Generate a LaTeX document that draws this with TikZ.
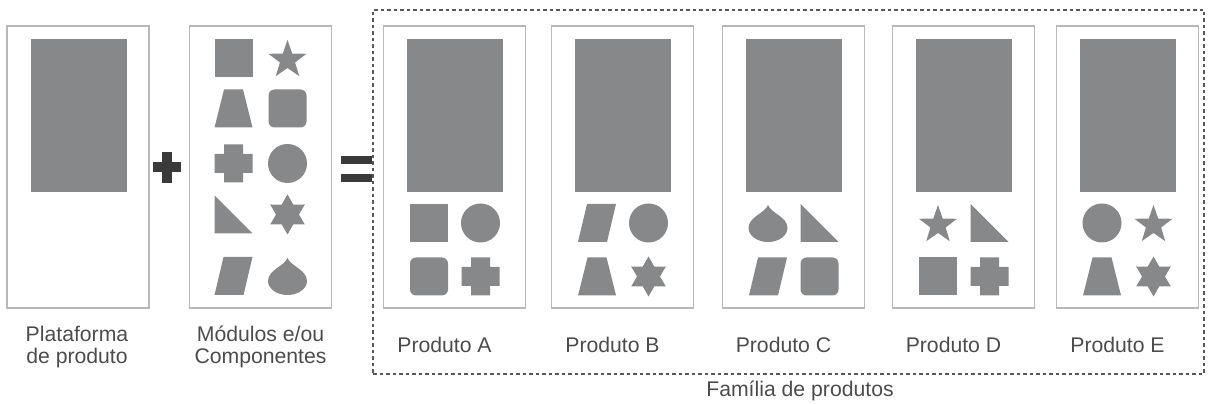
\documentclass[tikz,border=0pt]{standalone}
\usepackage{fontspec}
\setmainfont{Liberation Sans}
\usepackage{tikz}
\usepackage{xcolor}
\definecolor{shapegray}{HTML}{87888A}
\definecolor{boxgray}{HTML}{B8B8B8}
\definecolor{signgray}{HTML}{3A3A3A}
\definecolor{textgray}{HTML}{4C4C4C}
\tikzset{
    outer-box/.style = {draw=boxgray, line width=1.3pt, fill=white, rectangle, minimum width=142pt, minimum height=282pt, inner sep=0pt},
    base-block/.style = {fill=shapegray, rectangle, minimum width=96pt, minimum height=153pt, inner sep=0pt},
    part/.style = {fill=shapegray},
    caption-text/.style = {text=textgray, font=\fontsize{21.2}{22}\selectfont, align=center, inner sep=0pt},
    family-box/.style = {draw=signgray!85, line width=2pt, dash pattern=on 3.5pt off 3pt, rectangle, inner sep=0pt},
    pics/p-square/.style = {code={\fill[part] (-19,-19) rectangle (19,19);}},
    pics/p-rsquare/.style = {code={\fill[part, rounded corners=6pt] (-19,-19) rectangle (19,19);}},
    pics/p-circle/.style = {code={\fill[part] (0,0) circle (19.5);}},
    pics/p-cross/.style = {code={\fill[part] (-9.5,-19) -- (9.5,-19) -- (9.5,-9.5) -- (19,-9.5) -- (19,9.5) -- (9.5,9.5) -- (9.5,19) -- (-9.5,19) -- (-9.5,9.5) -- (-19,9.5) -- (-19,-9.5) -- (-9.5,-9.5) -- cycle;}},
    pics/p-trap/.style = {code={\fill[part] (-19,-19) -- (19,-19) -- (9.5,19) -- (-9.5,19) -- cycle;}},
    pics/p-para/.style = {code={\fill[part] (-19,-19) -- (10,-19) -- (19,19) -- (-10,19) -- cycle;}},
    pics/p-tri/.style = {code={\fill[part] (-19,19) -- (-19,-19) -- (19,-19) -- cycle;}},
    pics/p-star5/.style = {code={\fill[part, shift={(0,-2)}] (90:20) \foreach \k in {1,...,4}{ -- ({54+72*\k}:8) -- ({90+72*\k}:20)} -- (54:8) -- cycle;}},
    pics/p-star6/.style = {code={\fill[part] (90:20) \foreach \k in {1,...,5}{ -- ({60+60*\k}:11.5) -- ({90+60*\k}:20)} -- (60:11.5) -- cycle;}},
    pics/p-drop/.style = {code={\fill[part] (0,18) .. controls (-3,10) and (-19.5,6) .. (-19.5,-5) arc[start angle=180, end angle=360, x radius=19.5, y radius=14] .. controls (19.5,6) and (3,10) .. (0,18) -- cycle;}},
}

\begin{document}
\begin{tikzpicture}[x=1pt, y=1pt]
\useasboundingbox (0,0) rectangle (1211,404);

% plataforma
\node [outer-box] (platform) at (78,237) {};
\node [base-block] (platform-base) at (78.5,288.5) {};
\node [caption-text, anchor=base] (platform-label) at (77,40) {Plataforma\\de produto};

% modulos
\node [outer-box] (modules) at (260.5,237) {};
\pic at (233.5,346) {p-square};   \pic at (287.5,346) {p-star5};
\pic at (233.5,295.5) {p-trap};   \pic at (287.5,295.5) {p-rsquare};
\pic at (233.5,240.5) {p-cross};  \pic at (287.5,240.5) {p-circle};
\pic at (233.5,189.5) {p-tri};    \pic at (287.5,189.5) {p-star6};
\pic at (233.5,128) {p-para};     \pic at (287.5,128) {p-drop};
\node [caption-text, anchor=base] (modules-label) at (260.5,40) {Módulos e/ou\\Componentes};

% + and =
\fill [signgray] (152.5,231.5) rectangle (180.5,241.5);
\fill [signgray] (161.5,221) rectangle (171.5,252);
\fill [signgray] (341,240) rectangle (372,248);
\fill [signgray] (341,221.5) rectangle (372,229.5);

% familia
\node [family-box, minimum width=831pt, minimum height=364pt] (family) at (788.5,212) {};
\node [caption-text, anchor=base] (family-label) at (800,7) {Família de produtos};

\foreach \px/\nm/\sa/\sb/\sc/\sd in {383/A/p-square/p-circle/p-rsquare/p-cross, 551/B/p-para/p-circle/p-trap/p-star6, 722/C/p-drop/p-tri/p-para/p-rsquare, 892/D/p-star5/p-tri/p-square/p-cross, 1056/E/p-circle/p-star5/p-trap/p-star6}{
    \node [outer-box] (prod-\nm) at (\px+71.5,237) {};
    \node [base-block] (prod-base-\nm) at (\px+72,288.5) {};
    \pic at (\px+46,181) {\sa};
    \pic at (\px+97.5,181) {\sb};
    \pic at (\px+46,127.5) {\sc};
    \pic at (\px+97.5,127.5) {\sd};
    \node [caption-text, anchor=base] (prod-label-\nm) at (\px+61.5,51) {Produto \nm};
}
\end{tikzpicture}
\end{document}
